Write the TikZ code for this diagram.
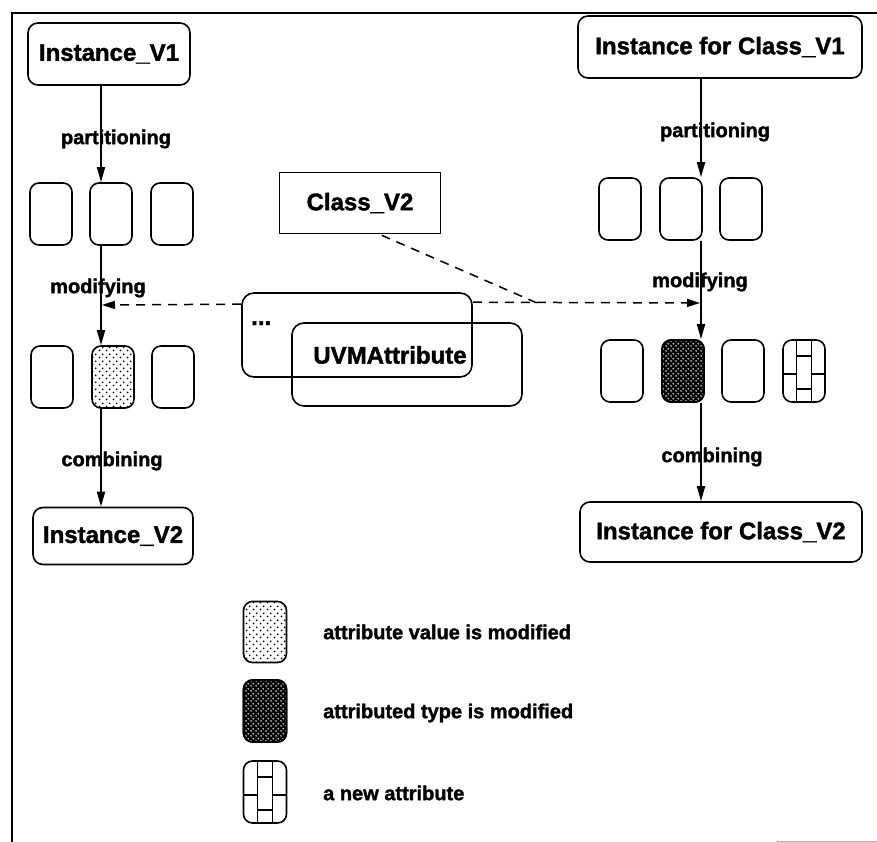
\documentclass[tikz,border=0pt]{standalone}
\usepackage{fontspec}
\setmainfont{Liberation Sans}[BoldFeatures={FakeBold=1.6}]
\usetikzlibrary{arrows.meta,calc,patterns.meta}

% sparse black dots: attribute value modified
\tikzdeclarepattern{
  name=fleck, type=uncolored,
  bounding box={(0pt,0pt) and (7pt,7pt)},
  tile size={(7pt,7pt)},
  code={\pgfpathcircle{\pgfpoint{1.75pt}{1.75pt}}{1.05pt}
        \pgfpathcircle{\pgfpoint{5.25pt}{5.25pt}}{1.05pt}
        \pgfusepath{fill}}
}
% small holes in a dark fill: attribute type modified
\tikzdeclarepattern{
  name=pinholes, type=uncolored,
  bounding box={(0pt,0pt) and (5pt,5pt)},
  tile size={(5pt,5pt)},
  code={\pgfpathcircle{\pgfpoint{1.25pt}{1.25pt}}{1.0pt}
        \pgfpathcircle{\pgfpoint{3.75pt}{3.75pt}}{1.0pt}
        \pgfusepath{fill}}
}

\newcommand\boxfont{\fontsize{24}{28}\selectfont\bfseries}
\newcommand\lblfont{\fontsize{20}{24}\selectfont\bfseries}

\begin{document}
\begin{tikzpicture}[x=1pt,y=-1pt,
  box/.style={draw, line width=1.6pt, rounded corners=10pt, font=\boxfont,
              inner sep=0pt, minimum height=62pt},
  plainbox/.style={draw, line width=1.6pt, font=\boxfont, inner sep=0pt,
              minimum width=161pt, minimum height=61pt},
  frame/.style={draw, line width=1.6pt, rounded corners=12pt, inner sep=0pt,
              minimum width=230pt, minimum height=84pt},
  slot/.style={draw, line width=1.6pt, rounded corners=9pt, inner sep=0pt,
              minimum width=42pt, minimum height=62pt},
  valmod/.style={slot, fill=white, pattern=fleck, pattern color=black},
  typemod/.style={slot, fill=black,
              postaction={pattern=pinholes, pattern color=white},
              postaction={draw}},
  newattr/.style={slot, path picture={
      \coordinate (pc) at (path picture bounding box.center);
      \draw[line width=1.4pt] ($(pc)+(-7.5,-40)$) -- ($(pc)+(-7.5,40)$);
      \draw[line width=1.4pt] ($(pc)+(7.5,-40)$) -- ($(pc)+(7.5,40)$);
      \draw[line width=1.4pt] ($(pc)+(-7.5,-15)$) -- ($(pc)+(7.5,-15)$);
      \draw[line width=1.4pt] ($(pc)+(-7.5,18)$) -- ($(pc)+(7.5,18)$);
      \draw[line width=1.4pt] ($(pc)+(-30,3)$) -- ($(pc)+(-7.5,3)$);
      \draw[line width=1.4pt] ($(pc)+(7.5,3)$) -- ($(pc)+(30,3)$);
  }},
  lbl/.style={font=\lblfont, inner sep=0pt},
  flow/.style={line width=1.8pt, -{Triangle[length=15pt,width=8pt]}},
  dep/.style={line width=1.5pt, dash pattern=on 9pt off 7pt},
  deparrow/.style={dep, -{Triangle[length=13pt,width=8pt]}}
]
\useasboundingbox (0,0) rectangle (877,842);

% page frame
\draw[line width=1.5pt] (12,842) -- (12,13) -- (877,13);
\draw[gray!60, line width=1pt] (777,841) -- (877,841);

% ---- left column: instance of the same class ----
\node[box, minimum width=162pt] (iv1) at (109,54) {Instance\_V1};
\node[slot] (l11) at (51,214) {};
\node[slot] (l12) at (111,214) {};
\node[slot] (l13) at (172,214) {};
\node[slot] (l21) at (52,377) {};
\node[valmod] (l22) at (113,377) {};
\node[slot] (l23) at (173,377) {};
\node[box, minimum width=160pt, minimum height=57pt] (iv2) at (113,536) {Instance\_V2};

\coordinate (lx) at (101,0);
\draw[flow] (iv1.south -| lx) -- (l12.north -| lx);
\draw[flow] (l12.south -| lx) -- (l22.north -| lx);
\draw[flow] (l22.south -| lx) -- (iv2.north -| lx);
\node[lbl] (lpart) at (116,139) {partitioning};
\node[lbl] (lmod) at (98,288) {modifying};
\node[lbl] (lcomb) at (112,461) {combining};

% ---- right column: instance of a changed class ----
\node[box, minimum width=284pt] (icv1) at (720,47) {Instance for Class\_V1};
\node[slot] (r11) at (620,209) {};
\node[slot] (r12) at (681,209) {};
\node[slot] (r13) at (741,209) {};
\node[slot] (r21) at (622,371) {};
\node[typemod] (r22) at (683,371) {};
\node[slot] (r23) at (743,371) {};
\node[newattr] (r24) at (804,371) {};
\node[box, minimum width=282pt, minimum height=60pt] (icv2) at (721,532) {Instance for Class\_V2};

\coordinate (rx) at (701,0);
\draw[flow] (icv1.south -| rx) -- (r12.north -| rx);
\draw[flow] (r12.south -| rx) -- (r22.north -| rx);
\draw[flow] (r22.south -| rx) -- (icv2.north -| rx);
\node[lbl] (rpart) at (715,132) {partitioning};
\node[lbl] (rmod) at (700,282) {modifying};
\node[lbl] (rcomb) at (712,457) {combining};

% ---- middle: class and attribute descriptions ----
\node[plainbox] (cls) at (360,203) {Class\_V2};
\node[frame] (dots) at (357,335) {};
\node[frame, minimum height=83pt] (uvm) at (407,364.5) {};
\node[font=\boxfont, inner sep=0pt, anchor=base west] (dotst) at (251,325) {...};
\node[font=\boxfont, inner sep=0pt] (uvmt) at (390,355) {UVMAttribute};

\coordinate (jn) at (537,303);
\coordinate (rt) at (700,303);
\coordinate (lt) at (102,305);
\draw[dep] ($(cls.south west)+(103,1)$) -- (jn);
\draw[deparrow] ($(dots.north east)+(0,10)$) -- (rt);
\draw[deparrow] ($(dots.north west)+(0,12)$) -- (lt);

% ---- legend ----
\node[valmod, minimum width=43pt, minimum height=61pt] (lg1) at (265,632) {};
\node[typemod, minimum width=43pt, minimum height=62pt] (lg2) at (265,711) {};
\node[newattr, minimum width=43pt, minimum height=62pt] (lg3) at (265,792) {};
\node[lbl, anchor=west] (lgt1) at (323,632) {attribute value is modified};
\node[lbl, anchor=west] (lgt2) at (323,713) {attributed type is modified};
\node[lbl, anchor=west] (lgt3) at (323,793) {a new attribute};
\end{tikzpicture}
\end{document}
